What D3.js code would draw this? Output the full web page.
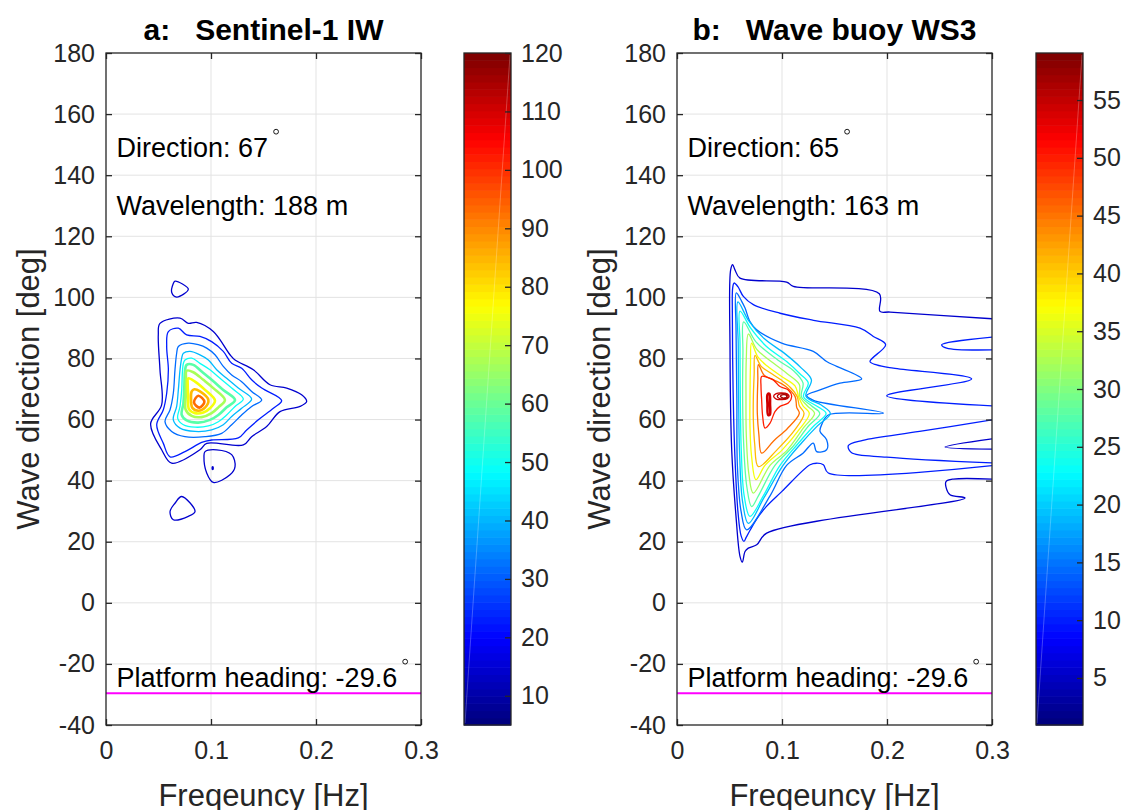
<!DOCTYPE html>
<html>
<head>
<meta charset="utf-8">
<script src="https://cdn.jsdelivr.net/npm/d3@7"></script>
<style>
  body { margin: 0; background: #fff; }
  svg text { font-family: "Liberation Sans", Arial, sans-serif; }
</style>
</head>
<body>
<script>
// ---- data ----
var freqTicks = [0, 0.1, 0.2, 0.3];
var dirTicks = [-40, -20, 0, 20, 40, 60, 80, 100, 120, 140, 160, 180];

// colour limits of the two colorbars and their tick labels
var s1ColorRange = [5, 120];
var s1ColorTicks = [10, 20, 30, 40, 50, 60, 70, 80, 90, 100, 110, 120];
var buoyColorRange = [0.93, 59.07];
var buoyColorTicks = [5, 10, 15, 20, 25, 30, 35, 40, 45, 50, 55];

// contour levels (12 evenly spaced levels inside each colour range)
var s1Levels = [13.8, 22.7, 31.5, 40.4, 49.2, 58.1, 66.9, 75.8, 84.6, 93.5, 102.3, 111.2];
var buoyLevels = [5.4, 9.9, 14.3, 18.8, 23.3, 27.8, 32.2, 36.7, 41.2, 45.6, 50.1, 54.6];

var platformHeading = -29.6;

// a: Sentinel-1 IW contours, [frequency Hz, direction deg]
var s1Contours = [
  {level: 13.8, closed: true, pts: [[0.0514,91.5],[0.0705,93.2],[0.0784,91.5],[0.0863,91.8],[0.1022,88.8],[0.1181,81.2],[0.1229,79.5],[0.1403,76.3],[0.1562,71.4],[0.1721,70.3],[0.1863,68.1],[0.1911,65.9],[0.1848,64.3],[0.1657,62.6],[0.1530,57.7],[0.1387,54.4],[0.1308,51.7],[0.0959,52.2],[0.0895,50.1],[0.0625,45.7],[0.0530,50.1],[0.0425,58.6],[0.0530,64.8],[0.0514,76.3],[0.0498,87.7]]},
  {level: 22.7, closed: true, pts: [[0.0594,88.8],[0.0689,89.9],[0.0768,87.7],[0.0895,87.2],[0.1006,85.5],[0.1117,82.3],[0.1197,78.4],[0.1292,76.8],[0.1387,73.0],[0.1483,70.3],[0.1673,66.2],[0.1594,63.7],[0.1451,59.9],[0.1340,56.6],[0.1260,54.0],[0.1006,53.3],[0.0911,52.5],[0.0752,49.5],[0.0610,47.8],[0.0546,52.2],[0.0483,58.3],[0.0546,63.2],[0.0578,68.6],[0.0594,76.3],[0.0578,83.9]]},
  {level: 31.5, closed: true, pts: [[0.0689,83.9],[0.0784,85.0],[0.0879,84.5],[0.0959,83.4],[0.1038,81.2],[0.1117,77.4],[0.1197,74.6],[0.1292,72.4],[0.1387,69.2],[0.1483,66.4],[0.1387,64.3],[0.1292,61.5],[0.1197,58.3],[0.1102,55.5],[0.0943,54.4],[0.0752,54.4],[0.0625,56.1],[0.0562,59.3],[0.0610,63.2],[0.0641,68.6],[0.0657,76.3],[0.0673,81.7]]},
  {level: 40.4, closed: true, pts: [[0.0737,81.7],[0.0800,82.3],[0.0895,81.2],[0.0975,79.5],[0.1054,76.3],[0.1149,73.5],[0.1260,70.3],[0.1387,66.7],[0.1292,63.7],[0.1197,61.0],[0.1117,58.3],[0.1006,56.6],[0.0848,56.1],[0.0705,57.2],[0.0641,59.9],[0.0673,64.3],[0.0689,69.7],[0.0705,76.3],[0.0721,80.1]]},
  {level: 49.2, closed: true, pts: [[0.0752,79.5],[0.0816,80.1],[0.0895,78.4],[0.0990,76.3],[0.1086,73.5],[0.1197,70.3],[0.1308,66.7],[0.1229,64.3],[0.1149,61.5],[0.1070,59.3],[0.0975,57.9],[0.0848,57.5],[0.0737,58.3],[0.0683,60.4],[0.0705,64.3],[0.0721,69.7],[0.0727,75.2],[0.0737,78.4]]},
  {level: 58.1, closed: true, pts: [[0.0768,77.9],[0.0832,77.9],[0.0911,75.7],[0.1006,73.0],[0.1117,69.7],[0.1229,66.4],[0.1149,64.0],[0.1070,61.5],[0.0990,59.9],[0.0879,59.0],[0.0768,59.7],[0.0721,61.5],[0.0737,65.3],[0.0746,70.8],[0.0752,75.7]]},
  {level: 66.9, closed: true, pts: [[0.0768,76.0],[0.0832,75.5],[0.0927,73.0],[0.1022,70.3],[0.1133,66.4],[0.1070,64.0],[0.1006,62.1],[0.0911,60.8],[0.0816,61.2],[0.0759,63.2],[0.0759,67.5],[0.0762,73.0]]},
  {level: 75.8, closed: true, pts: [[0.0784,73.5],[0.0848,72.4],[0.0943,69.7],[0.1038,66.2],[0.0990,63.7],[0.0927,62.3],[0.0848,62.1],[0.0790,63.4],[0.0784,67.5],[0.0778,71.4]]},
  {level: 84.6, closed: true, pts: [[0.0841,69.9],[0.0895,69.2],[0.0975,66.4],[0.0943,63.9],[0.0879,62.9],[0.0822,63.9],[0.0810,67.0],[0.0816,69.2]]},
  {level: 93.5, closed: true, pts: [[0.0879,67.8],[0.0937,65.8],[0.0889,63.9],[0.0838,65.6]]},
  {level: 13.8, closed: true, pts: [[0.0641,104.5],[0.0657,105.3],[0.0784,102.7],[0.0673,100.1],[0.0626,101.6]]},
  {level: 13.8, closed: true, pts: [[0.0943,49.5],[0.1054,50.1],[0.1197,48.5],[0.1229,44.6],[0.1181,41.9],[0.1022,39.4],[0.0959,42.5],[0.0933,47.9]]},
  {level: 13.8, closed: true, pts: [[0.1010,44.1],[0.1016,44.6],[0.1022,44.1],[0.1016,43.6]]},
  {level: 13.8, closed: true, pts: [[0.0721,34.8],[0.0848,29.9],[0.0784,28.3],[0.0641,27.2],[0.0610,29.9],[0.0657,32.6]]}
];

// b: wave buoy WS3 contours
var buoyContours = [
  {level: 5.4, closed: false, pts: [[0.3,93.0],[0.2029,95.2],[0.1933,95.4],[0.1927,101.2],[0.1108,103.6],[0.1044,105.0],[0.0600,106.3],[0.0552,109.0],[0.0530,110.7],[0.0511,109.0],[0.0505,82.8],[0.0521,50.1],[0.0562,28.3],[0.0600,15.2],[0.0622,13.3],[0.0648,16.8],[0.0679,17.9],[0.0759,19.0],[0.0854,22.8],[0.2743,34.3],[0.2600,35.4],[0.2562,37.9],[0.2562,39.7],[0.2632,40.5],[0.3,40.5]]},
  {level: 9.9, closed: false, pts: [[0.3,64.5],[0.1997,67.8],[0.2806,73.3],[0.2060,76.8],[0.1902,77.9],[0.1838,79.0],[0.1987,84.5],[0.1870,87.2],[0.1743,89.9],[0.1300,92.5],[0.0981,94.8],[0.0727,97.6],[0.0632,100.3],[0.0580,103.5],[0.0543,104.7],[0.0530,103.0],[0.0527,95],[0.0530,80],[0.0540,60],[0.0555,45],[0.0580,30],[0.0610,22],[0.0638,20.1],[0.0660,21.5],[0.0700,24],[0.0760,27.5],[0.0850,31.5],[0.0997,36.4],[0.1267,45.2],[0.1330,45.7],[0.1394,45.2],[0.1441,42.5],[0.3,44.9]]},
  {level: 9.9, closed: false, pts: [[0.3,87.0],[0.2521,84.5],[0.2568,83.4],[0.3,82.8]]},
  {level: 9.9, closed: false, pts: [[0.3,59.9],[0.2310,56.1],[0.1770,53.2],[0.1632,51.5],[0.1660,49.2],[0.1997,47.7],[0.3,45.8]]},
  {level: 5.4, closed: false, pts: [[0.3,53.7],[0.2552,51.0],[0.3,50.3]]},
  {level: 14.3, closed: true, pts: [[0.0565,101.5],[0.0616,98.7],[0.0648,96.5],[0.0695,92.1],[0.0759,89.4],[0.0997,85.0],[0.1298,82.3],[0.1425,79.0],[0.1521,77.4],[0.1759,73.3],[0.1552,71.9],[0.1362,69.7],[0.1235,67.9],[0.1300,66.3],[0.1965,62.1],[0.1441,61.5],[0.1380,58.5],[0.1362,56.1],[0.1425,53.4],[0.1425,50.1],[0.1330,49.5],[0.1298,52.3],[0.1200,49.0],[0.1044,45.0],[0.0886,35.0],[0.0663,23.9],[0.0610,30.0],[0.0575,45.0],[0.0570,67.0],[0.0562,90.0]]},
  {level: 18.8, closed: true, pts: [[0.0580,98.5],[0.0680,92.5],[0.0830,86.5],[0.1030,81.5],[0.1180,77.0],[0.1280,73.0],[0.1228,67.6],[0.1380,64.6],[0.1460,62.0],[0.1340,58.0],[0.1190,52.5],[0.1010,45.0],[0.0830,34.5],[0.0680,26.0],[0.0625,33.0],[0.0595,50.0],[0.0587,67.0],[0.0583,85.0]]},
  {level: 23.3, closed: true, pts: [[0.0600,95.5],[0.0700,90.0],[0.0850,84.0],[0.1044,79.0],[0.1170,75.0],[0.1250,72.0],[0.1205,67.5],[0.1350,64.0],[0.1420,62.0],[0.1300,57.8],[0.1150,52.0],[0.0981,45.0],[0.0822,35.0],[0.0695,28.3],[0.0640,35.0],[0.0612,50.0],[0.0603,67.0],[0.0600,85.0]]},
  {level: 27.8, closed: true, pts: [[0.0635,92.0],[0.0750,85.5],[0.0960,79.5],[0.1110,76.0],[0.1200,72.0],[0.1185,67.5],[0.1280,64.5],[0.1360,62.0],[0.1250,57.8],[0.1100,51.0],[0.0933,45.0],[0.0775,35.0],[0.0711,31.5],[0.0665,38.0],[0.0635,52.0],[0.0625,67.0],[0.0628,82.0]]},
  {level: 32.2, closed: true, pts: [[0.0680,88.0],[0.0760,83.0],[0.0917,78.5],[0.1050,75.0],[0.1165,71.5],[0.1170,67.5],[0.1240,64.5],[0.1310,62.0],[0.1210,57.5],[0.1050,50.0],[0.0886,45.0],[0.0727,35.9],[0.0685,42.0],[0.0660,55.0],[0.0657,67.0],[0.0660,80.0]]},
  {level: 36.7, closed: true, pts: [[0.0710,85.0],[0.0770,80.5],[0.0860,77.5],[0.1000,74.0],[0.1124,71.0],[0.1158,67.5],[0.1200,64.5],[0.1260,62.0],[0.1170,57.0],[0.1000,50.0],[0.0838,45.0],[0.0752,40.3],[0.0710,48.0],[0.0695,58.0],[0.0695,67.0],[0.0700,78.0]]},
  {level: 41.2, closed: true, pts: [[0.0743,81.0],[0.0800,77.5],[0.0880,75.5],[0.0990,73.0],[0.1080,70.5],[0.1145,67.5],[0.1165,64.5],[0.1210,62.0],[0.1120,56.5],[0.0950,50.0],[0.0775,44.6],[0.0740,52.0],[0.0727,60.0],[0.0727,67.0],[0.0735,75.0]]},
  {level: 45.6, closed: true, pts: [[0.0775,78.0],[0.0830,74.5],[0.0920,73.0],[0.1030,71.0],[0.1125,67.5],[0.1140,64.0],[0.1165,62.0],[0.1050,57.0],[0.0920,53.0],[0.0806,49.0],[0.0780,55.0],[0.0765,62.0],[0.0765,67.0],[0.0770,73.0]]},
  {level: 50.1, closed: true, pts: [[0.0806,74.1],[0.0860,73.8],[0.0917,73.0],[0.0981,70.8],[0.1060,69.7],[0.1092,67.5],[0.1060,65.4],[0.0981,64.3],[0.0933,62.6],[0.0886,58.8],[0.0838,57.2],[0.0816,61.0],[0.0806,66.5],[0.0800,70.8]]},
  {level: 54.6, closed: true, pts: [[0.0863,68.2],[0.0880,68.4],[0.0886,65.0],[0.0884,61.6],[0.0868,61.5],[0.0862,65.0]]},
  {level: 54.6, closed: true, pts: [[0.0920,67.6],[0.0945,68.5],[0.0995,68.7],[0.1050,68.4],[0.1068,67.6],[0.1050,66.8],[0.0995,66.5],[0.0945,66.7]]},
  {level: 56, closed: true, pts: [[0.0955,67.6],[0.0975,68.3],[0.1010,68.45],[0.1045,68.2],[0.1058,67.6],[0.1045,67.0],[0.1010,66.8],[0.0975,66.9]]},
  {level: 57, closed: true, pts: [[0.0985,67.6],[0.1000,68.05],[0.1022,68.15],[0.1040,67.95],[0.1046,67.6],[0.1040,67.25],[0.1022,67.05],[0.1000,67.15]]}
];

// ---- layout ----
var panels = [
  {id: 'a', left: 106, title: 'a:   Sentinel-1 IW', contours: s1Contours, crange: s1ColorRange, cticks: s1ColorTicks,
   cbarX: 464, dirText: 'Direction: 67', wlText: 'Wavelength: 188 m'},
  {id: 'b', left: 677, title: 'b:   Wave buoy WS3', contours: buoyContours, crange: buoyColorRange, cticks: buoyColorTicks,
   cbarX: 1036, dirText: 'Direction: 65', wlText: 'Wavelength: 163 m'}
];
var plotW = 315, axTop = 53, axBottom = 725, cbarW = 47;
var axisColor = '#262626';

// MATLAB jet colormap
function jet(t) {
  var c = function(v) { return Math.max(0, Math.min(1, v)); };
  return d3.rgb(255 * c(1.5 - Math.abs(4 * t - 3)), 255 * c(1.5 - Math.abs(4 * t - 2)), 255 * c(1.5 - Math.abs(4 * t - 1))).toString();
}

var svg = d3.select('body').append('svg')
  .attr('width', 1122).attr('height', 810)
  .style('display', 'block');

panels.forEach(function(p) {
  var x = d3.scaleLinear().domain([0, 0.3]).range([p.left, p.left + plotW]);
  var y = d3.scaleLinear().domain([-40, 180]).range([axBottom, axTop]);
  var c = d3.scaleLinear().domain(p.crange).range([0, 1]).clamp(true);
  var g = svg.append('g').attr('class', 'panel-' + p.id);

  // grid
  g.append('g').selectAll('line').data(freqTicks.slice(1, -1)).join('line')
    .attr('x1', function(d) { return x(d); }).attr('x2', function(d) { return x(d); })
    .attr('y1', axTop).attr('y2', axBottom).attr('stroke', '#e3e3e3').attr('stroke-width', 1);
  g.append('g').selectAll('line').data(dirTicks.slice(1, -1)).join('line')
    .attr('y1', function(d) { return y(d); }).attr('y2', function(d) { return y(d); })
    .attr('x1', p.left).attr('x2', p.left + plotW).attr('stroke', '#e3e3e3').attr('stroke-width', 1);

  // contours
  var clipId = 'clip-' + p.id;
  svg.append('clipPath').attr('id', clipId).append('rect')
    .attr('x', p.left).attr('y', axTop).attr('width', plotW).attr('height', axBottom - axTop);
  var line = d3.line().x(function(d) { return x(d[0]); }).y(function(d) { return y(d[1]); });
  g.append('g').attr('clip-path', 'url(#' + clipId + ')')
    .selectAll('path').data(p.contours).join('path')
    .attr('d', function(d) {
      return line.curve(d.closed ? d3.curveCatmullRomClosed.alpha(0.5) : d3.curveCatmullRom.alpha(0.5))(d.pts);
    })
    .attr('fill', 'none')
    .attr('stroke', function(d) { return jet(c(d.level)); })
    .attr('stroke-width', function(d) { return d.level > 54 && d.pts[0][0] < 0.09 ? 2.6 : 1.3; })
    .attr('stroke-linejoin', 'round');

  // platform heading line
  g.append('line')
    .attr('x1', x(0)).attr('x2', x(0.3))
    .attr('y1', y(platformHeading)).attr('y2', y(platformHeading))
    .attr('stroke', '#ff00ff').attr('stroke-width', 2);

  // axes, ticks inside on all four sides
  var fmt = function(d) { return String(d); };
  var ax = [
    g.append('g').attr('transform', 'translate(0,' + axBottom + ')')
      .call(d3.axisBottom(x).tickValues(freqTicks).tickFormat(fmt).tickSizeInner(-6).tickSizeOuter(0).tickPadding(16)),
    g.append('g').attr('transform', 'translate(' + p.left + ',0)')
      .call(d3.axisLeft(y).tickValues(dirTicks).tickFormat(fmt).tickSizeInner(-6).tickSizeOuter(0).tickPadding(11)),
    g.append('g').attr('transform', 'translate(0,' + axTop + ')')
      .call(d3.axisTop(x).tickValues(freqTicks).tickFormat('').tickSizeInner(-6).tickSizeOuter(0)),
    g.append('g').attr('transform', 'translate(' + (p.left + plotW) + ',0)')
      .call(d3.axisRight(y).tickValues(dirTicks).tickFormat('').tickSizeInner(-6).tickSizeOuter(0))
  ];
  ax.forEach(function(a) {
    a.select('.domain').remove();
    a.selectAll('line').attr('stroke', axisColor).attr('stroke-width', 1.3);
    a.selectAll('text').attr('fill', axisColor).style('font-size', '25px');
  });
  g.append('rect').attr('x', p.left).attr('y', axTop).attr('width', plotW).attr('height', axBottom - axTop)
    .attr('fill', 'none').attr('stroke', axisColor).attr('stroke-width', 1.3);

  // labels
  g.append('text').attr('x', x(0.15)).attr('y', 806).attr('text-anchor', 'middle')
    .attr('fill', axisColor).style('font-size', '31px').text('Freqeuncy [Hz]');
  g.append('text').attr('transform', 'translate(' + (p.left - 78) + ',' + y(70) + ') rotate(-90)')
    .attr('text-anchor', 'middle').attr('dy', '0.35em')
    .attr('fill', axisColor).style('font-size', '31px').text('Wave direction [deg]');
  g.append('text').attr('x', x(0.15)).attr('y', 40).attr('text-anchor', 'middle')
    .style('font-size', '30px').style('font-weight', 'bold').style('white-space', 'pre')
    .text(p.title);

  // annotations with degree rings
  function annot(txt, dx, dy, ring) {
    var t = g.append('text').attr('x', x(dx)).attr('y', y(dy)).attr('dy', '0.35em')
      .style('font-size', '27px').attr('fill', '#000').text(txt);
    if (ring) {
      var len = t.node().getComputedTextLength();
      g.append('circle').attr('cx', x(dx) + len + 8).attr('cy', y(dy) - 16).attr('r', 2.4)
        .attr('fill', 'none').attr('stroke', '#000').attr('stroke-width', 0.9);
    }
  }
  annot(p.dirText, 0.01, 149, true);
  annot(p.wlText, 0.01, 130, false);
  annot('Platform heading: ' + platformHeading, 0.01, -24.5, true);

  // colorbar
  var cy = d3.scaleLinear().domain(p.crange).range([axBottom, axTop]);
  var nBands = 93;
  var step = (p.crange[1] - p.crange[0]) / nBands;
  var bands = d3.range(nBands);
  var cb = g.append('g');
  cb.selectAll('rect').data(bands).join('rect')
    .attr('x', p.cbarX).attr('width', cbarW)
    .attr('y', function(i) { return cy(p.crange[0] + (i + 1) * step); })
    .attr('height', function(i) { return cy(p.crange[0] + i * step) - cy(p.crange[0] + (i + 1) * step) + 0.6; })
    .attr('fill', function(i) { return jet(i / (nBands - 1)); });
  cb.append('line')
    .attr('x1', p.cbarX + cbarW - 1).attr('y1', axTop + 2).attr('x2', p.cbarX + 1).attr('y2', axBottom - 2)
    .attr('stroke', '#fff').attr('stroke-opacity', 0.25).attr('stroke-width', 1);
  var cax = cb.append('g').attr('transform', 'translate(' + (p.cbarX + cbarW) + ',0)')
    .call(d3.axisRight(cy).tickValues(p.cticks).tickFormat(fmt).tickSizeInner(-6).tickSizeOuter(0).tickPadding(10));
  cax.select('.domain').remove();
  cax.selectAll('line').attr('stroke', axisColor).attr('stroke-width', 1.3);
  cax.selectAll('text').attr('fill', axisColor).style('font-size', '25px');
  cb.append('rect').attr('x', p.cbarX).attr('y', axTop).attr('width', cbarW).attr('height', axBottom - axTop)
    .attr('fill', 'none').attr('stroke', axisColor).attr('stroke-width', 1.3);
});
</script>
</body>
</html>
